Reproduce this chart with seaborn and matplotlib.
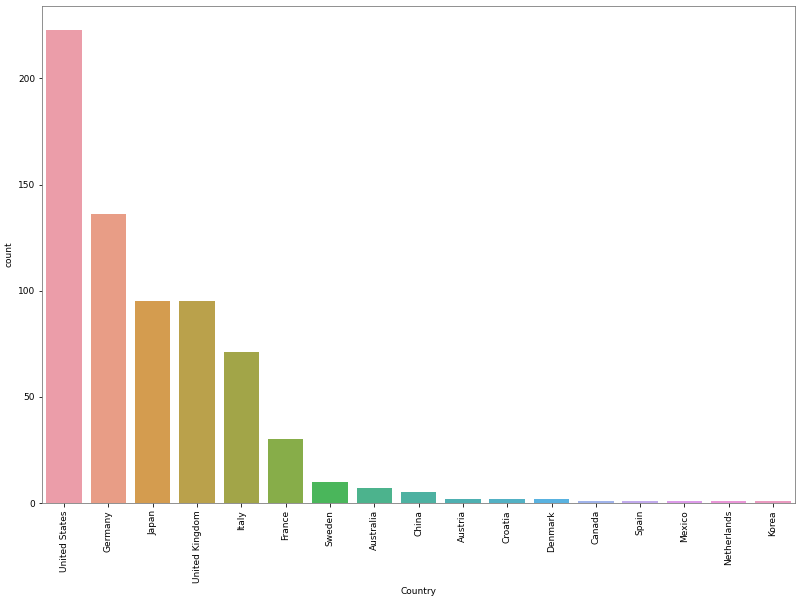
import pandas as pd
import seaborn as sns
import matplotlib
matplotlib.use('Agg')
import matplotlib.pyplot as plt

# contagem de registros por país
paises = ['United States', 'Germany', 'Japan', 'United Kingdom', 'Italy', 'France',
          'Sweden', 'Australia', 'China', 'Austria', 'Croatia', 'Denmark',
          'Canada', 'Spain', 'Mexico', 'Netherlands', 'Korea']
contagem = [223, 136, 95, 95, 71, 30, 10, 7, 5, 2, 2, 2, 1, 1, 1, 1, 1]

df = pd.DataFrame({'Country': paises, 'count': contagem})

plt.rcParams['font.size'] = 9

fig, ax = plt.subplots(figsize=(800 / 72, 601 / 72), dpi=72)
sns.barplot(data=df, x='Country', y='count', hue='Country',
            palette=sns.husl_palette(len(paises), l=0.72),
            legend=False, saturation=0.75, ax=ax)
ax.set_xlabel('Country')
ax.set_ylabel('count')
plt.xticks(rotation=90)
for s in ax.spines.values():
    s.set_edgecolor('#777777')

plt.subplots_adjust(left=0.0525, right=0.994, top=0.99, bottom=0.163)
plt.savefig('out.png', dpi=72)
